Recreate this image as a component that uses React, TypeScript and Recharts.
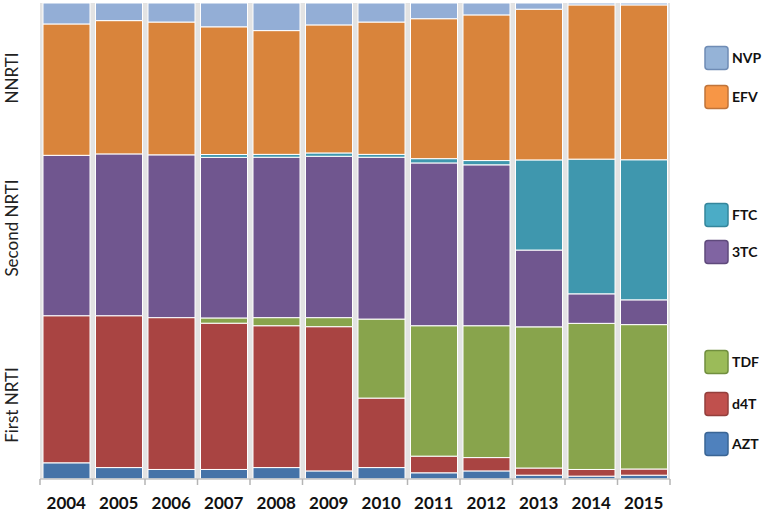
import { Bar, BarChart, CartesianGrid, XAxis, YAxis } from "recharts";

const years = ["2004", "2005", "2006", "2007", "2008", "2009", "2010", "2011", "2012", "2013", "2014", "2015"];

// share of all regimens (%), bottom to top
const azt = [3.4, 2.4, 2.0, 2.0, 2.4, 1.7, 2.4, 1.3, 1.7, 0.8, 0.6, 0.8];
const d4t = [30.9, 31.9, 31.9, 30.7, 29.8, 30.3, 14.6, 3.5, 2.8, 1.5, 1.4, 1.3];
const tdf = [0, 0, 0, 1.1, 1.7, 1.9, 16.6, 27.4, 27.7, 29.6, 30.7, 30.3];
const lam = [33.7, 34.0, 34.2, 33.7, 33.7, 33.9, 34.0, 34.2, 33.8, 16.1, 6.2, 5.2];
const ftc = [0, 0, 0, 0.6, 0.6, 0.7, 0.6, 0.9, 0.9, 18.9, 28.3, 29.4];
const efv = [27.6, 28.0, 27.9, 26.8, 26.0, 26.9, 27.8, 29.4, 30.6, 31.6, 32.4, 32.5];
const nvp = [4.4, 3.7, 4.0, 5.0, 5.8, 4.6, 4.0, 3.3, 2.5, 1.3, 0.4, 0.4];

const data = years.map((year, i) => ({
  year,
  AZT: azt[i],
  d4T: d4t[i],
  TDF: tdf[i],
  "3TC": lam[i],
  FTC: ftc[i],
  EFV: efv[i],
  NVP: nvp[i],
}));

const SERIES = [
  { key: "AZT", color: "#4573a8", swatch: "#4f81bd", border: "#3a6595" },
  { key: "d4T", color: "#a94442", swatch: "#c0504d", border: "#943f3c" },
  { key: "TDF", color: "#88a44c", swatch: "#9bbb59", border: "#718f3f" },
  { key: "3TC", color: "#70568f", swatch: "#8064a2", border: "#5f4a7c" },
  { key: "FTC", color: "#3f97ae", swatch: "#4bacc6", border: "#35869c" },
  { key: "EFV", color: "#d9843b", swatch: "#f79646", border: "#c0743a" },
  { key: "NVP", color: "#93aed6", swatch: "#95b3d7", border: "#6f8cb5" },
];

const groupLabels = [
  { text: "NNRTI", y: 78 },
  { text: "Second NRTI", y: 228 },
  { text: "First NRTI", y: 405 },
];

const legendItems = [
  { key: "NVP", y: 58 },
  { key: "EFV", y: 97 },
  { key: "FTC", y: 215 },
  { key: "3TC", y: 252 },
  { key: "TDF", y: 362 },
  { key: "d4T", y: 404 },
  { key: "AZT", y: 444 },
];

const W = 762;
const H = 514;
const LEFT = 40;
const RIGHT = 92;
const BAND = (W - LEFT - RIGHT) / years.length;
const FONT = "Lato, 'Open Sans', sans-serif";

function YearTick(props: any) {
  const { x, y, payload, index } = props;
  const last = index === years.length - 1;
  return (
    <g>
      <line x1={x - BAND / 2} x2={x - BAND / 2} y1={y - 8} y2={y - 2} stroke="#b5b5b5" strokeWidth={1.5} />
      {last && <line x1={x + BAND / 2} x2={x + BAND / 2} y1={y - 8} y2={y - 2} stroke="#b5b5b5" strokeWidth={1.5} />}
      <text x={x} y={y} dy={22} textAnchor="middle" fontFamily={FONT} fontWeight={700} fontSize={17} fill="#111">
        {payload.value}
      </text>
    </g>
  );
}

export default function App() {
  return (
    <div style={{ position: "absolute", left: 0, top: 0, width: W, height: H, background: "#fff" }}>
      <BarChart
        width={W}
        height={H}
        data={data}
        stackOffset="expand"
        barCategoryGap={3}
        margin={{ top: 3, right: RIGHT, left: LEFT, bottom: 5 }}
      >
        <CartesianGrid horizontal={false} vertical={false} fill="#e3e3e3" stroke="none" />
        <XAxis
          dataKey="year"
          height={30}
          tickLine={false}
          axisLine={{ stroke: "#c4c4c4", strokeWidth: 1.5 }}
          tick={<YearTick />}
          interval={0}
        />
        <YAxis hide domain={[0, 1]} />
        {SERIES.map((s) => (
          <Bar
            key={s.key}
            dataKey={s.key}
            stackId="a"
            fill={s.color}
            stroke="#ffffff"
            strokeWidth={1}
            isAnimationActive={false}
          />
        ))}
      </BarChart>
      <svg width={W} height={H} style={{ position: "absolute", left: 0, top: 0, pointerEvents: "none" }}>
        {groupLabels.map((g) => (
          <text
            key={g.text}
            x={0}
            y={0}
            transform={`translate(18 ${g.y}) rotate(-90)`}
            textAnchor="middle"
            fontFamily={FONT}
            fontSize={17}
            fill="#222"
          >
            {g.text}
          </text>
        ))}
        {legendItems.map((item) => {
          const s = SERIES.find((x) => x.key === item.key)!;
          return (
            <g key={item.key}>
              <rect x={705} y={item.y - 11.5} width={23} height={23} rx={3} fill={s.swatch} stroke={s.border} strokeWidth={1.5} />
              <text x={732} y={item.y + 5} fontFamily={FONT} fontWeight={700} fontSize={14} fill="#111">
                {item.key}
              </text>
            </g>
          );
        })}
      </svg>
    </div>
  );
}
